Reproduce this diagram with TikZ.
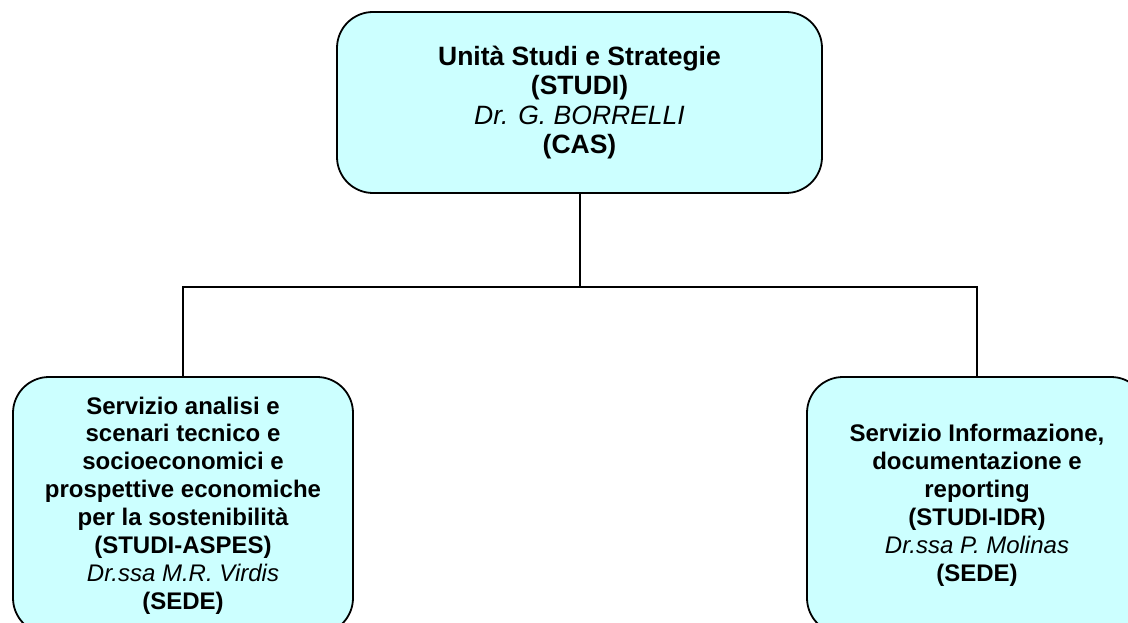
\documentclass[tikz,border=0pt]{standalone}
\usepackage{fontspec}
\setmainfont{Liberation Sans}
\usepackage{xcolor}
\usepackage{tikz}
\definecolor{boxcyan}{RGB}{204,255,255}

\tikzset{
  unitbox/.style={rectangle, rounded corners=36pt, draw, line width=1.8pt, fill=boxcyan,
    align=center, inner sep=0pt},
  link/.style={draw, line width=2pt}
}

\begin{document}
\begin{tikzpicture}[x=1pt, y=-1pt]
\clip (0,0) rectangle (1128,623);

% Top unit
\node[unitbox, minimum width=485pt, minimum height=181pt,
  font=\fontsize{26.5}{29.5}\selectfont\bfseries] (studi) at (579.5,102.5)
  {Unità Studi e Strategie\\(STUDI)\\{\mdseries\itshape Dr. G. BORRELLI}\\(CAS)};

% Services
\node[unitbox, minimum width=340pt, minimum height=257pt,
  font=\fontsize{24}{27.9}\selectfont\bfseries] (aspes) at (183,505.5)
  {Servizio analisi e\\scenari tecnico e\\socioeconomici e\\prospettive economiche\\per la sostenibilità\\(STUDI-ASPES)\\{\mdseries\itshape Dr.ssa M.R. Virdis}\\(SEDE)};
\node[unitbox, minimum width=340pt, minimum height=257pt,
  font=\fontsize{24}{27.9}\selectfont\bfseries] (idr) at (977,505.5)
  {Servizio Informazione,\\documentazione e\\reporting\\(STUDI-IDR)\\{\mdseries\itshape Dr.ssa P. Molinas}\\(SEDE)};

% Connectors
\coordinate (fork) at (579.5,287);
\draw[link] (studi.south) -- (fork);
\draw[link] (aspes.north) |- (fork) -| (idr.north);
\end{tikzpicture}
\end{document}
